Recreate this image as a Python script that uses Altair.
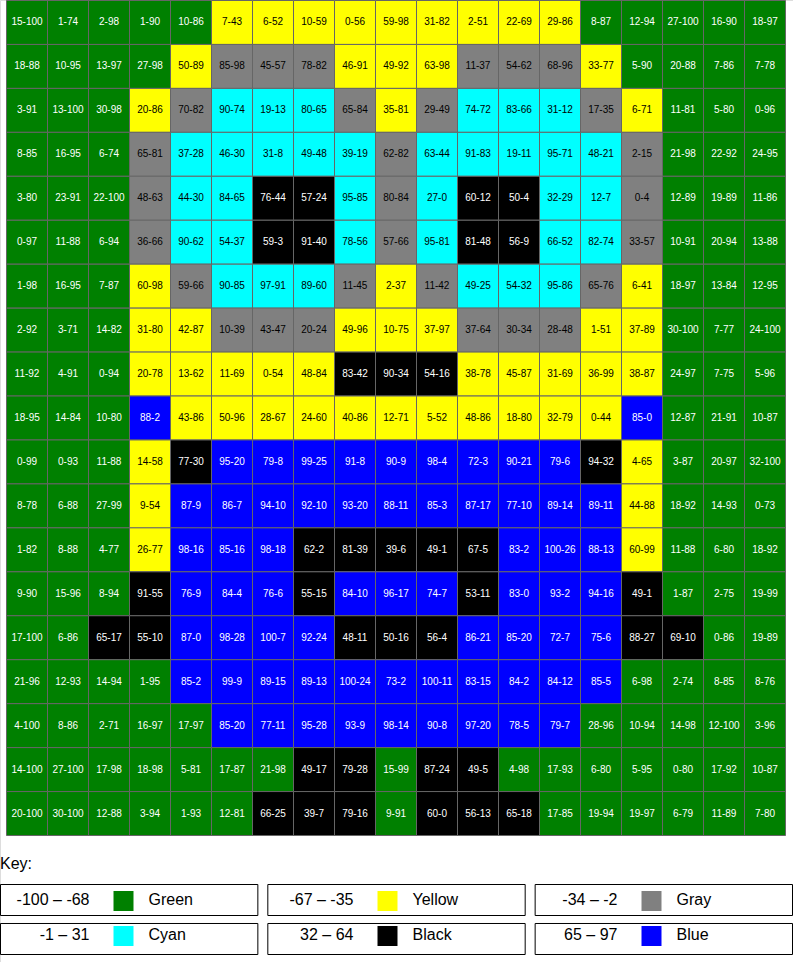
import altair as alt
import pandas as pd

row_01 = ["15-100", "1-74", "2-98", "1-90", "10-86", "7-43", "6-52", "10-59", "0-56", "59-98", "31-82", "2-51", "22-69", "29-86", "8-87", "12-94", "27-100", "16-90", "18-97"]
row_02 = ["18-88", "10-95", "13-97", "27-98", "50-89", "85-98", "45-57", "78-82", "46-91", "49-92", "63-98", "11-37", "54-62", "68-96", "33-77", "5-90", "20-88", "7-86", "7-78"]
row_03 = ["3-91", "13-100", "30-98", "20-86", "70-82", "90-74", "19-13", "80-65", "65-84", "35-81", "29-49", "74-72", "83-66", "31-12", "17-35", "6-71", "11-81", "5-80", "0-96"]
row_04 = ["8-85", "16-95", "6-74", "65-81", "37-28", "46-30", "31-8", "49-48", "39-19", "62-82", "63-44", "91-83", "19-11", "95-71", "48-21", "2-15", "21-98", "22-92", "24-95"]
row_05 = ["3-80", "23-91", "22-100", "48-63", "44-30", "84-65", "76-44", "57-24", "95-85", "80-84", "27-0", "60-12", "50-4", "32-29", "12-7", "0-4", "12-89", "19-89", "11-86"]
row_06 = ["0-97", "11-88", "6-94", "36-66", "90-62", "54-37", "59-3", "91-40", "78-56", "57-66", "95-81", "81-48", "56-9", "66-52", "82-74", "33-57", "10-91", "20-94", "13-88"]
row_07 = ["1-98", "16-95", "7-87", "60-98", "59-66", "90-85", "97-91", "89-60", "11-45", "2-37", "11-42", "49-25", "54-32", "95-86", "65-76", "6-41", "18-97", "13-84", "12-95"]
row_08 = ["2-92", "3-71", "14-82", "31-80", "42-87", "10-39", "43-47", "20-24", "49-96", "10-75", "37-97", "37-64", "30-34", "28-48", "1-51", "37-89", "30-100", "7-77", "24-100"]
row_09 = ["11-92", "4-91", "0-94", "20-78", "13-62", "11-69", "0-54", "48-84", "83-42", "90-34", "54-16", "38-78", "45-87", "31-69", "36-99", "38-87", "24-97", "7-75", "5-96"]
row_10 = ["18-95", "14-84", "10-80", "88-2", "43-86", "50-96", "28-67", "24-60", "40-86", "12-71", "5-52", "48-86", "18-80", "32-79", "0-44", "85-0", "12-87", "21-91", "10-87"]
row_11 = ["0-99", "0-93", "11-88", "14-58", "77-30", "95-20", "79-8", "99-25", "91-8", "90-9", "98-4", "72-3", "90-21", "79-6", "94-32", "4-65", "3-87", "20-97", "32-100"]
row_12 = ["8-78", "6-88", "27-99", "9-54", "87-9", "86-7", "94-10", "92-10", "93-20", "88-11", "85-3", "87-17", "77-10", "89-14", "89-11", "44-88", "18-92", "14-93", "0-73"]
row_13 = ["1-82", "8-88", "4-77", "26-77", "98-16", "85-16", "98-18", "62-2", "81-39", "39-6", "49-1", "67-5", "83-2", "100-26", "88-13", "60-99", "11-88", "6-80", "18-92"]
row_14 = ["9-90", "15-96", "8-94", "91-55", "76-9", "84-4", "76-6", "55-15", "84-10", "96-17", "74-7", "53-11", "83-0", "93-2", "94-16", "49-1", "1-87", "2-75", "19-99"]
row_15 = ["17-100", "6-86", "65-17", "55-10", "87-0", "98-28", "100-7", "92-24", "48-11", "50-16", "56-4", "86-21", "85-20", "72-7", "75-6", "88-27", "69-10", "0-86", "19-89"]
row_16 = ["21-96", "12-93", "14-94", "1-95", "85-2", "99-9", "89-15", "89-13", "100-24", "73-2", "100-11", "83-15", "84-2", "84-12", "85-5", "6-98", "2-74", "8-85", "8-76"]
row_17 = ["4-100", "8-86", "2-71", "16-97", "17-97", "85-20", "77-11", "95-28", "93-9", "98-14", "90-8", "97-20", "78-5", "79-7", "28-96", "10-94", "14-98", "12-100", "3-96"]
row_18 = ["14-100", "27-100", "17-98", "18-98", "5-81", "17-87", "21-98", "49-17", "79-28", "15-99", "87-24", "49-5", "4-98", "17-93", "6-80", "5-95", "0-80", "17-92", "10-87"]
row_19 = ["20-100", "30-100", "12-88", "3-94", "1-93", "12-81", "66-25", "39-7", "79-16", "9-91", "60-0", "56-13", "65-18", "17-85", "19-94", "19-97", "6-79", "11-89", "7-80"]

rows = [row_01, row_02, row_03, row_04, row_05, row_06, row_07, row_08, row_09, row_10,
        row_11, row_12, row_13, row_14, row_15, row_16, row_17, row_18, row_19]

# key
key_ranges = ["-100 – -68", "-67 – -35", "-34 – -2", "-1 – 31", "32 – 64", "65 – 97"]
key_names = ["Green", "Yellow", "Gray", "Cyan", "Black", "Blue"]
key_colors = ["#008000", "#ffff00", "#808080", "#00ffff", "#000000", "#0000ff"]
thresholds = [-67, -34, -1, 32, 65]
text_colors = ["#ffffff", "#000000", "#000000", "#000000", "#ffffff", "#ffffff"]

recs = []
for r, row in enumerate(rows):
    for c, lab in enumerate(row):
        a, b = lab.split("-")
        recs.append({"r": r, "c": c, "label": lab, "diff": int(a) - int(b)})
grid = pd.DataFrame(recs)

key_df = pd.DataFrame({
    "rng": key_ranges, "name": key_names, "hex": key_colors,
    "kc": [0, 1, 2, 0, 1, 2], "kr": [0, 0, 0, 1, 1, 1],
})

FONT = "Liberation Sans"
N = len(rows)
xg = alt.Scale(domain=list(range(N)), range=[6.5, 785.5], paddingInner=0, paddingOuter=0)
yg = alt.Scale(domain=list(range(N)), range=[0.5, 835.5], paddingInner=0, paddingOuter=0)

base = alt.Chart(grid).encode(
    x=alt.X("c:O", scale=xg, axis=None),
    y=alt.Y("r:O", scale=yg, axis=None),
)
cells = base.mark_rect(stroke="#666666", strokeWidth=1).encode(
    fill=alt.Fill("diff:Q", scale=alt.Scale(type="threshold", domain=thresholds, range=key_colors), legend=None)
)
labels = base.mark_text(font=FONT, fontSize=10, baseline="middle").encode(
    text="label:N",
    color=alt.Color("diff:Q", scale=alt.Scale(type="threshold", domain=thresholds, range=text_colors), legend=None),
)

xl = alt.Scale(domain=[0, 1, 2], range=[0.5, 792.5], paddingInner=0.0373, paddingOuter=0)
yl = alt.Scale(domain=[0, 1], range=[884.5, 954.5], paddingInner=0.205, paddingOuter=0)

# offsets below are relative to each key box's centre (box width ~258)
kbase = alt.Chart(key_df).encode(
    x=alt.X("kc:O", scale=xl, axis=None),
    y=alt.Y("kr:O", scale=yl, axis=None),
)
boxes = kbase.mark_rect(fill="white", stroke="black", strokeWidth=1)
swatches = kbase.mark_square(size=400, filled=True, opacity=1, xOffset=-9, yOffset=-1).encode(
    fill=alt.Fill("hex:N", scale=None),
)
rng_text = kbase.mark_text(font=FONT, fontSize=16, align="right", baseline="middle", dx=-43, dy=-2).encode(
    text="rng:N",
)
name_text = kbase.mark_text(font=FONT, fontSize=16, align="left", baseline="middle", dx=16, dy=-2).encode(
    text="name:N",
)
key_title = alt.Chart(pd.DataFrame({"t": ["Key:"]})).mark_text(
    font=FONT, fontSize=16, align="left", baseline="middle"
).encode(x=alt.value(0), y=alt.value(864), text="t:N")

chart = alt.layer(cells, labels, boxes, swatches, rng_text, name_text, key_title).resolve_scale(
    x="independent", y="independent", fill="independent", color="independent"
).properties(
    width=793, height=962, padding=0, autosize=alt.AutoSizeParams(type="none")
).configure_view(stroke=None).configure(font=FONT, background="white")

chart.save("out.html", embed_options={"renderer": "svg", "actions": False})
